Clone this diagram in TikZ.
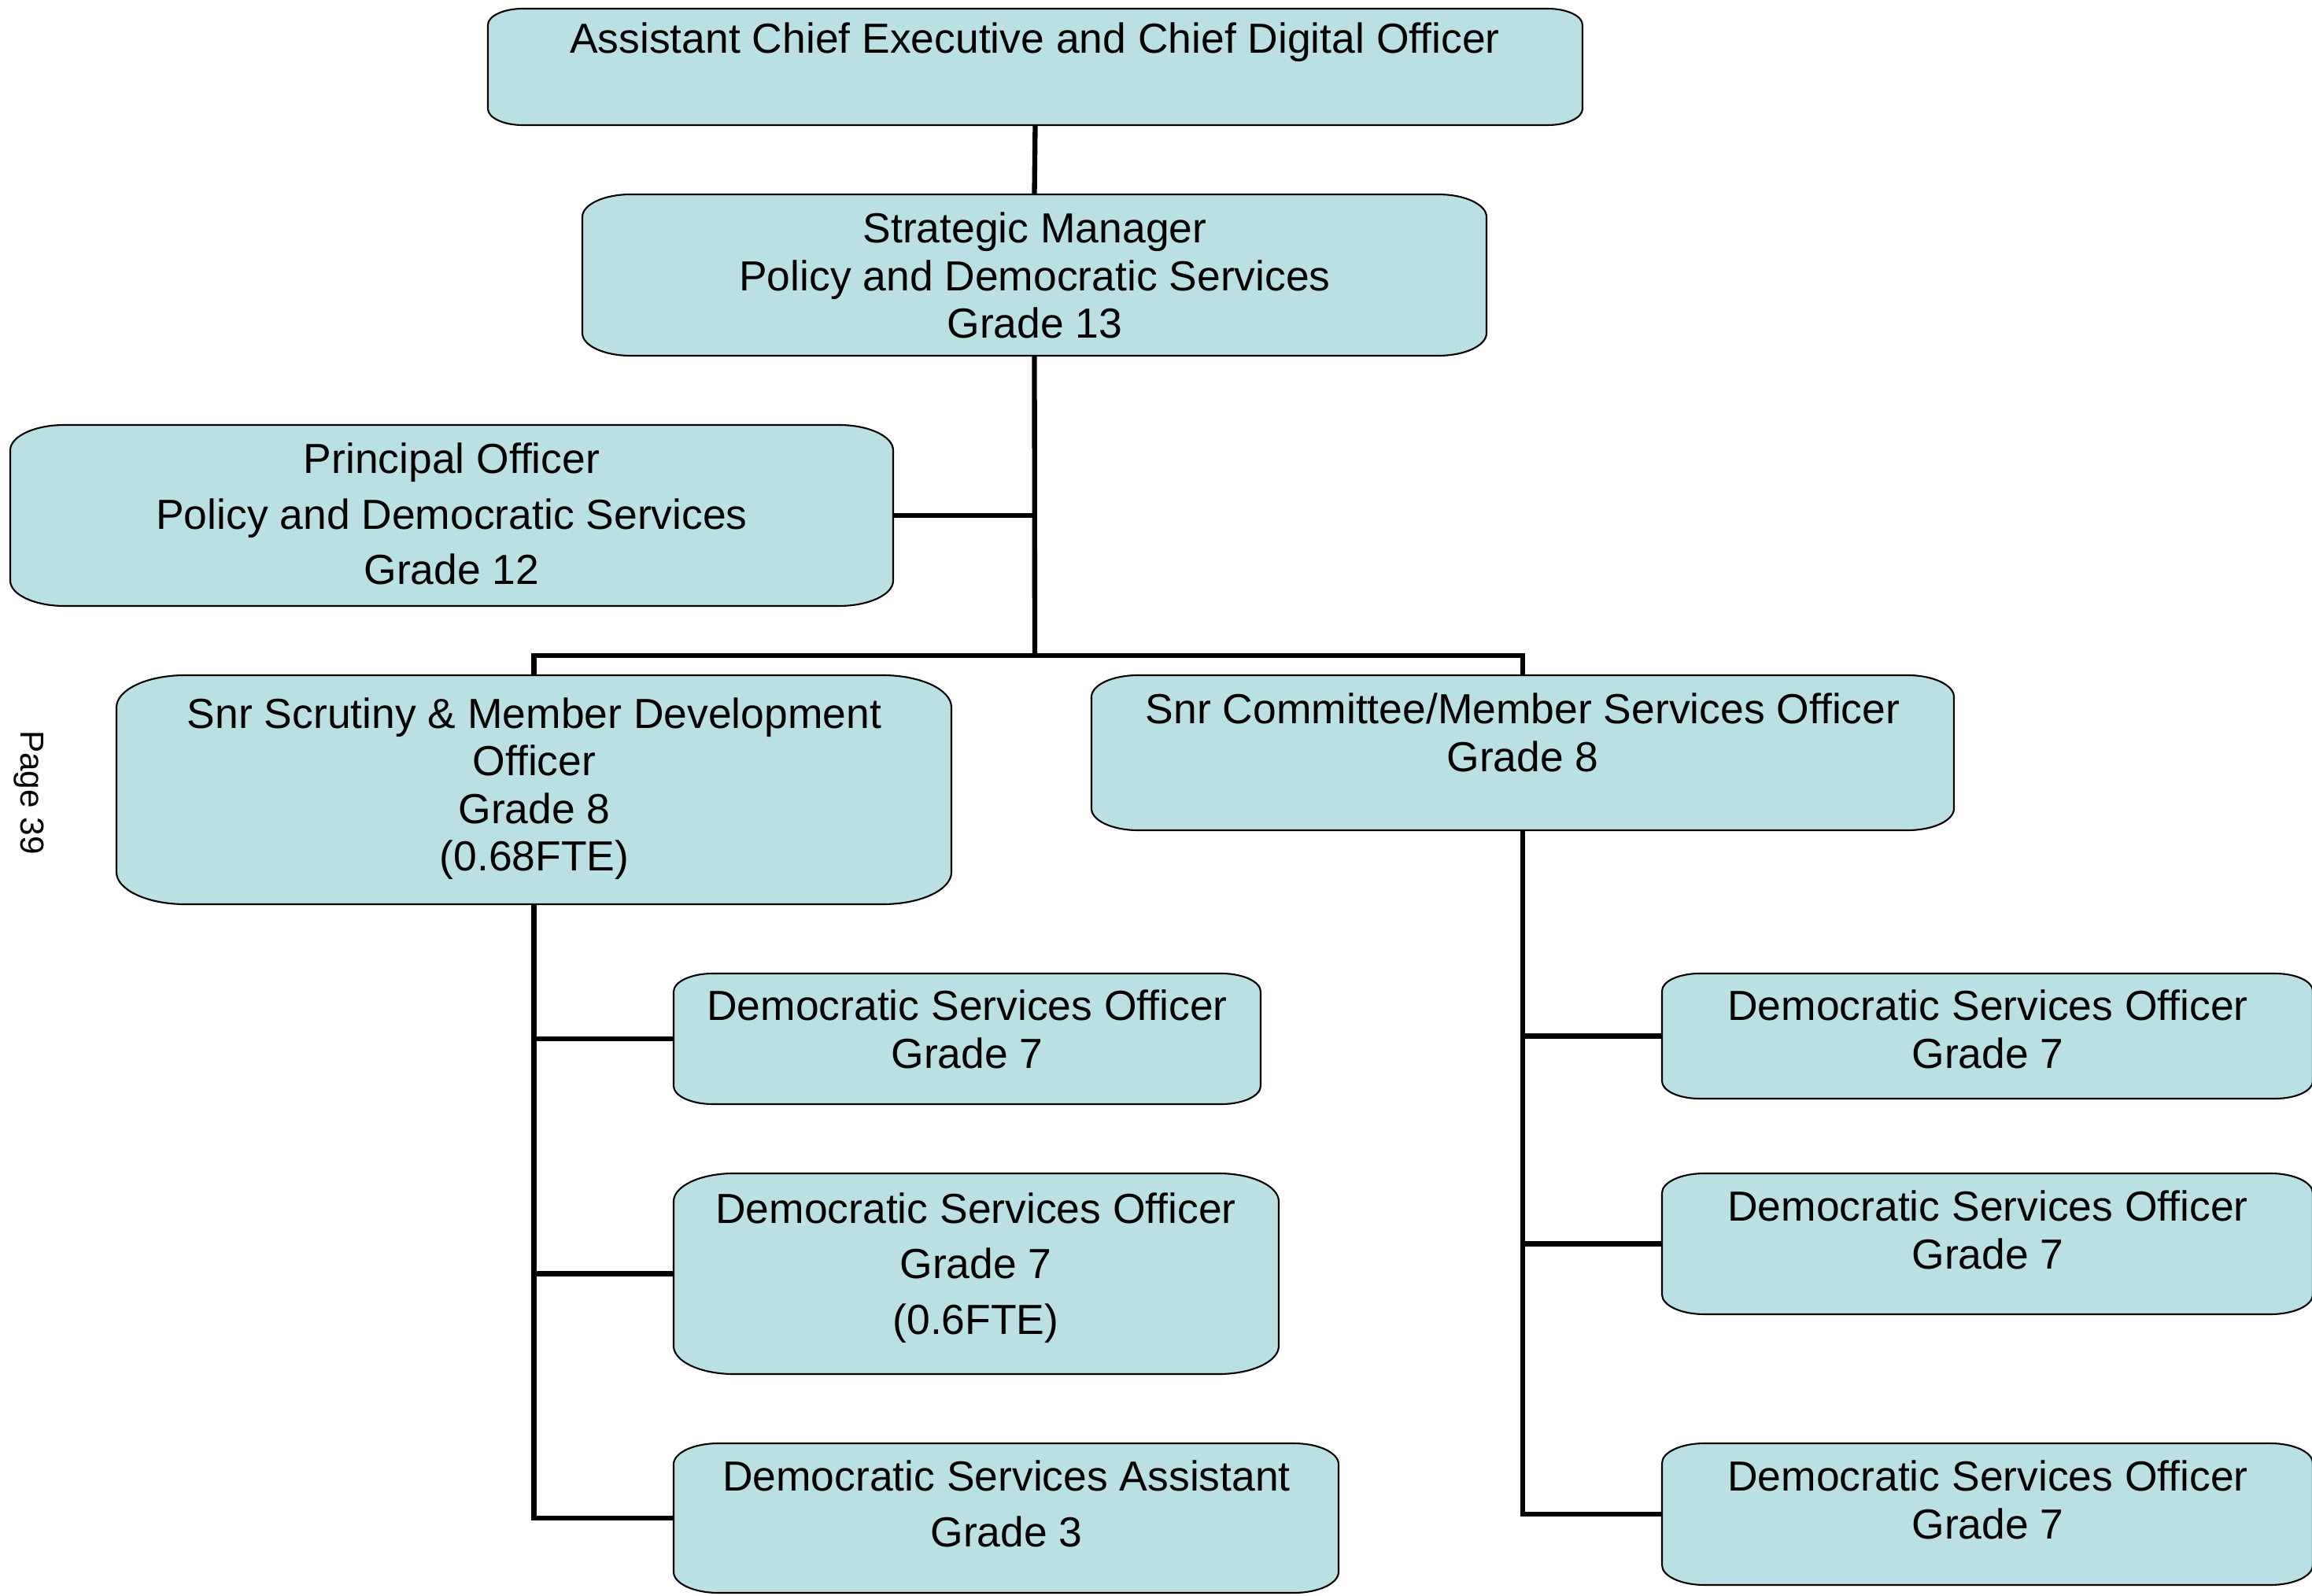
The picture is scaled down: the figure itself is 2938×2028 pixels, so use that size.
\documentclass[tikz,border=0pt]{standalone}
\usepackage{fontspec}
\setmainfont{Liberation Sans}
\usetikzlibrary{fit}

\definecolor{postblue}{RGB}{186,224,227}

% box with flattened (elliptic) corners: name, left, top, right, bottom
\newcommand{\postbox}[5]{%
  \pgfmathsetmacro{\cornx}{0.3*(#5-#3)}%
  \pgfmathsetmacro{\corny}{0.14*(#5-#3)}%
  \draw[post] (#2,{#3+\corny})
    arc[start angle=180, end angle=270, x radius=\cornx, y radius=\corny]
    -- ({#4-\cornx},#3)
    arc[start angle=270, end angle=360, x radius=\cornx, y radius=\corny]
    -- (#4,{#5-\corny})
    arc[start angle=0, end angle=90, x radius=\cornx, y radius=\corny]
    -- ({#2+\cornx},#5)
    arc[start angle=90, end angle=180, x radius=\cornx, y radius=\corny]
    -- cycle;
  \node[fit={(#2,#3) (#4,#5)}, inner sep=0pt] (#1) {};%
}

\begin{document}
\begin{tikzpicture}[x=0.01cm, y=-0.01cm,
    post/.style={draw=black, fill=postblue, line width=0.6pt},
    txt/.style={align=center, inner sep=0pt, font=\fontsize{15.2}{17.2}\selectfont},
    txtwide/.style={txt, font=\fontsize{15.2}{20}\selectfont},
    link/.style={line width=1.8pt}]

   \path[use as bounding box, clip] (0,0) rectangle (2938,2028);

   % boxes
   \postbox{ace}{620}{11}{2011}{159}
   \postbox{sm}{740}{247}{1889}{452}
   \postbox{po}{13}{540}{1135}{770}
   \postbox{ssm}{148}{858}{1209}{1149}
   \postbox{scm}{1387}{858}{2483}{1055}
   \postbox{dsoa}{856}{1237}{1602}{1403}
   \postbox{dsob}{856}{1491}{1625}{1746}
   \postbox{dsa}{856}{1834}{1701}{2024}
   \postbox{dsoc}{2112}{1237}{2939}{1396}
   \postbox{dsod}{2112}{1491}{2939}{1670}
   \postbox{dsoe}{2112}{1834}{2939}{2014}

   \node[txt] (ace-t) at (1315,54) {Assistant Chief Executive and Chief Digital Officer};
   \node[txt] (sm-t) at (1315,350) {Strategic Manager\\Policy and Democratic Services\\Grade 13};
   \node[txtwide] (po-t) at (574,653) {Principal Officer\\Policy and Democratic Services\\Grade 12};
   \node[txt] (ssm-t) at (679,1002) {Snr Scrutiny \& Member Development\\Officer\\Grade 8\\(0.68FTE)};
   \node[txt] (scm-t) at (1935,931) {Snr Committee/Member Services Officer\\Grade 8};
   \node[txt] (dsoa-t) at (1229,1308) {Democratic Services Officer\\Grade 7};
   \node[txtwide] (dsob-t) at (1240,1611) {Democratic Services Officer\\Grade 7\\(0.6FTE)};
   \node[txtwide] (dsa-t) at (1279,1911) {Democratic Services Assistant\\Grade 3};
   \node[txt] (dsoc-t) at (2526,1308) {Democratic Services Officer\\Grade 7};
   \node[txt] (dsod-t) at (2526,1563) {Democratic Services Officer\\Grade 7};
   \node[txt] (dsoe-t) at (2526,1906) {Democratic Services Officer\\Grade 7};

   % reporting lines
   \coordinate (hub) at (1315,833);
   \draw[link] (ace.south) -- (sm.north);
   \draw[link] (sm.south) -- (hub);
   \draw[link] (po.east) -- (po.east -| hub);
   \draw[link] (ssm.north) |- (hub) -| (scm.north);
   \draw[link] (ssm.south) |- (dsa.west);
   \draw[link] (dsoa.west -| ssm.south) -- (dsoa.west);
   \draw[link] (dsob.west -| ssm.south) -- (dsob.west);
   \draw[link] (scm.south) |- (dsoe.west);
   \draw[link] (dsoc.west -| scm.south) -- (dsoc.west);
   \draw[link] (dsod.west -| scm.south) -- (dsod.west);

   \node[rotate=-90, inner sep=0pt, font=\fontsize{12}{14}\selectfont] (page) at (37,1007) {Page 39};
\end{tikzpicture}
\end{document}
